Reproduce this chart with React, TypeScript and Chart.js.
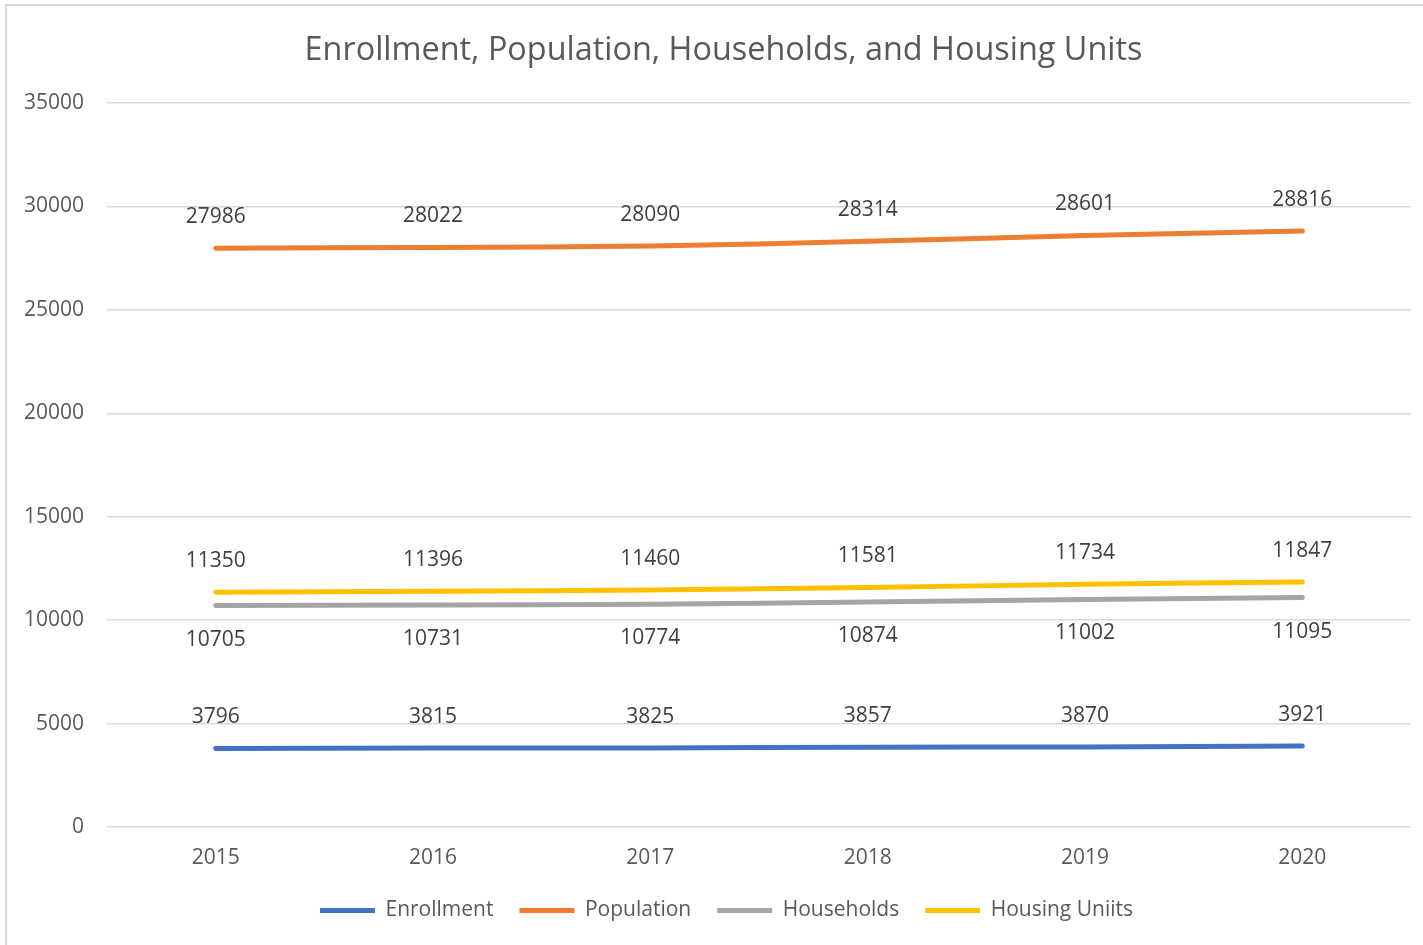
import React, { useEffect, useRef } from "react";
import { Chart, registerables } from "chart.js";

Chart.register(...registerables);

const years = ["2015", "2016", "2017", "2018", "2019", "2020"];
const enrollment = [3796, 3815, 3825, 3857, 3870, 3921];
const population = [27986, 28022, 28090, 28314, 28601, 28816];
const households = [10705, 10731, 10774, 10874, 11002, 11095];
const housingUnits = [11350, 11396, 11460, 11581, 11734, 11847];
const seriesNames = ["Enrollment", "Population", "Households", "Housing Uniits"];
const seriesColors = ["#4472C4", "#ED7D31", "#A5A5A5", "#FFC000"];
const labelSides = ["above", "above", "below", "above"];
const yMin = 0;
const yMax = 35000;
const yStep = 5000;
const titleText = "Enrollment, Population, Households, and Housing Units";

const FONT = "'Open Sans', sans-serif";

const dataLabelPlugin = {
  id: "dataLabels",
  afterDatasetsDraw(chart: any) {
    const ctx = chart.ctx;
    ctx.save();
    ctx.font = `21px ${FONT}`;
    ctx.fillStyle = "#404040";
    ctx.textAlign = "center";
    ctx.textBaseline = "middle";
    chart.data.datasets.forEach((ds: any, i: number) => {
      const meta = chart.getDatasetMeta(i);
      meta.data.forEach((pt: any, j: number) => {
        const off = labelSides[i] === "below" ? 34 : -31;
        ctx.fillText(String(ds.data[j]), pt.x, pt.y + off);
      });
    });
    ctx.restore();
  },
};

// Center title and legend over the whole chart box (as in the original), not the layout box
const centerShiftPlugin = {
  id: "centerShift",
  afterLayout(chart: any) {
    const t = chart.titleBlock;
    if (t) {
      t.left += 18;
      t.right += 18;
    }
    const l = chart.legend;
    if (l) {
      l.left += 21;
      l.right += 21;
    }
  },
};

export default function App() {
  const ref = useRef<HTMLCanvasElement | null>(null);
  useEffect(() => {
    if (!ref.current) return;
    const seriesData = [enrollment, population, households, housingUnits];
    const chart = new Chart(ref.current, {
      type: "line",
      data: {
        labels: years,
        datasets: seriesData.map((d, i) => ({
          label: seriesNames[i],
          data: d,
          borderColor: seriesColors[i],
          backgroundColor: seriesColors[i],
          borderWidth: 5,
          borderCapStyle: "round",
          pointRadius: 0,
          pointHoverRadius: 0,
          tension: 0.25,
          fill: false,
        })),
      },
      options: {
        responsive: false,
        animation: false,
        layout: { padding: { left: 0, right: 12, top: 0, bottom: 14 } },
        plugins: {
          title: {
            display: true,
            text: titleText,
            color: "#595959",
            font: { family: FONT, size: 32.4, weight: "normal" },
            padding: { top: 31.6, bottom: 32.6 },
          },
          legend: {
            position: "bottom",
            labels: {
              usePointStyle: true,
              pointStyle: "line",
              pointStyleWidth: 55,
              color: "#595959",
              font: { family: FONT, size: 21 },
              padding: 26,
            },
          },
          tooltip: { enabled: false },
        },
        scales: {
          x: {
            offset: true,
            grid: { display: false, drawTicks: false },
            border: { display: false },
            ticks: { color: "#595959", font: { family: FONT, size: 21 }, padding: 18 },
            afterFit: (s: any) => {
              s.height = 47;
            },
          },
          y: {
            min: yMin,
            max: yMax,
            grid: { color: "#d9d9d9", lineWidth: 1.5, drawTicks: false },
            border: { display: false },
            ticks: {
              stepSize: yStep,
              color: "#595959",
              font: { family: FONT, size: 21 },
              padding: 23,
              callback: (v: any) => String(v),
            },
            afterFit: (s: any) => {
              s.width = 107;
            },
          },
        },
      },
      plugins: [dataLabelPlugin, centerShiftPlugin],
    } as any);
    return () => chart.destroy();
  }, []);
  return (
    <div
      style={{
        position: "absolute",
        left: 0,
        top: 0,
        width: 1423,
        height: 945,
        overflow: "hidden",
        background: "#fff",
      }}
    >
      <div
        style={{
          position: "absolute",
          left: 5,
          top: 4,
          width: 1440,
          height: 960,
          border: "2px solid #d9d9d9",
          boxSizing: "border-box",
        }}
      />
      <canvas
        ref={ref}
        width={1423}
        height={945}
        style={{ position: "absolute", left: 0, top: 0 }}
      />
    </div>
  );
}
